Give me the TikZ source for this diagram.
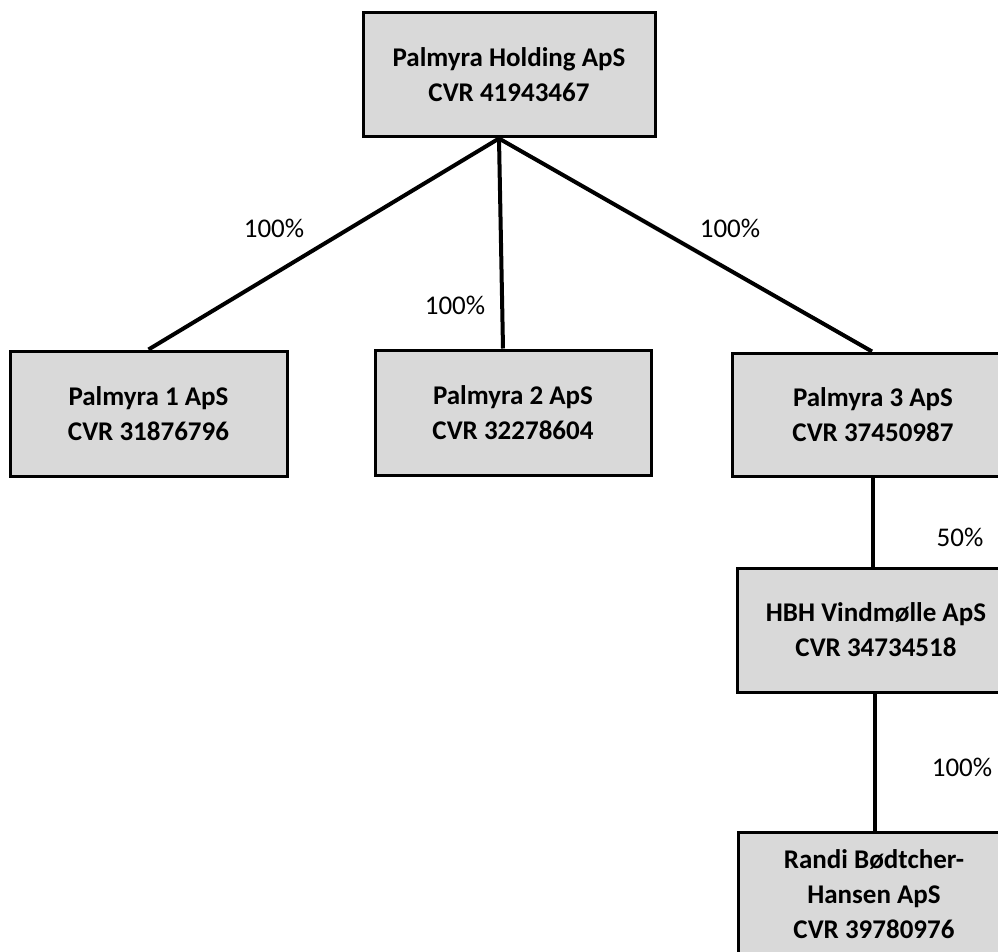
\documentclass[tikz,border=0pt]{standalone}
\usepackage{fontspec}
\setmainfont{Carlito}
\usetikzlibrary{positioning,calc}
\definecolor{boxgray}{HTML}{D9D9D9}
\tikzstyle{company} = [draw, rectangle, fill=boxgray, line width=3pt, inner sep=0pt, align=center, font=\fontsize{27}{35}\selectfont\bfseries]
\tikzstyle{share} = [font=\fontsize{27}{32}\selectfont, inner sep=0pt]
\tikzstyle{own} = [line width=4pt]

\begin{document}
\begin{tikzpicture}[x=1pt, y=-1pt]
		\useasboundingbox (0,0) rectangle (998,952);
		\node (holding) [company, minimum width=292pt, minimum height=124pt] at (509,75) {Palmyra Holding ApS\\CVR 41943467};
		\node (p1) [company, minimum width=277pt, minimum height=125pt] at (148.5,413.5) {Palmyra 1 ApS\\CVR 31876796};
		\node (p2) [company, minimum width=276pt, minimum height=125pt] at (513,412.5) {Palmyra 2 ApS\\CVR 32278604};
		\node (p3) [company, minimum width=282pt, minimum height=123pt] at (873,414.5) {Palmyra 3 ApS\\CVR 37450987};
		\node (hbh) [company, minimum width=278pt, minimum height=124pt] at (876,630) {HBH Vindmølle ApS\\CVR 34734518};
		\node (randi) [company, minimum width=272pt, minimum height=124pt] at (874,894) {Randi Bødtcher-\\Hansen ApS\\CVR 39780976};
		\coordinate (hub) at ([xshift=-10pt]holding.south);
		\draw[own] (hub) -- (p1.north);
		\draw[own] (hub) -- ([xshift=-10pt]p2.north);
		\draw[own] (hub) -- ([xshift=-1pt]p3.north);
		\draw[own] (p3.south) -- (p3.south |- hbh.north);
		\draw[own] ([xshift=-1pt]hbh.south) -- ([xshift=-1pt]hbh.south |- randi.north);
		\node (s1) [share] at (274,228) {100\%};
		\node (s2) [share] at (455,305) {100\%};
		\node (s3) [share] at (730,228) {100\%};
		\node (s4) [share] at (960,537) {50\%};
		\node (s5) [share] at (962,767) {100\%};
\end{tikzpicture}
\end{document}
